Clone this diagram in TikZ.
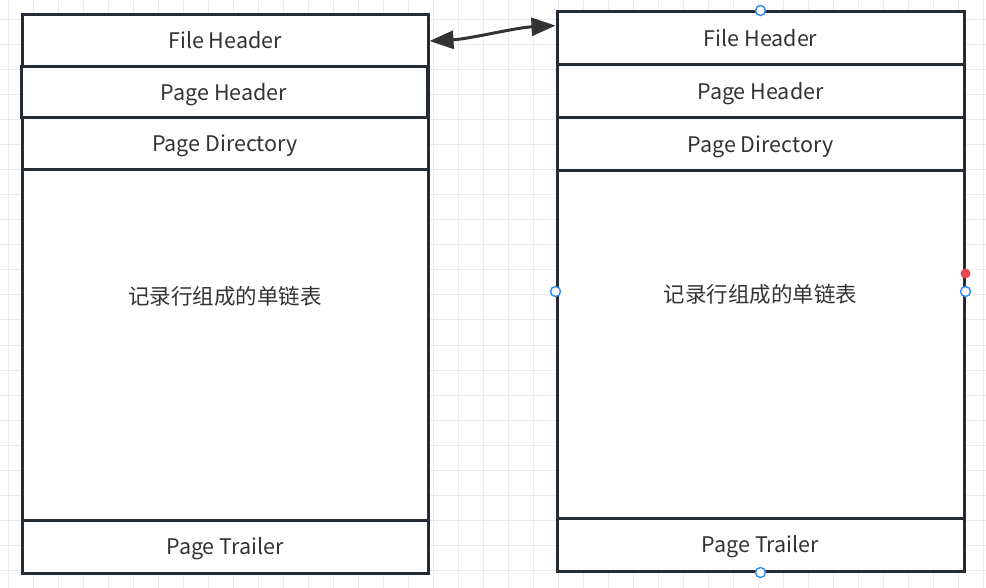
\documentclass[tikz,border=0pt]{standalone}
\usepackage{fontspec}
\setmainfont{Noto Sans CJK SC}
\usetikzlibrary{arrows.meta,calc}
\definecolor{edge}{HTML}{252C33}
\definecolor{txt}{HTML}{333333}
\definecolor{gridc}{HTML}{EBEBEB}
\definecolor{hblue}{HTML}{2D8CF0}
\definecolor{hred}{HTML}{E5484D}
\tikzset{
  outerbox/.style={draw=edge, line width=3pt, fill=white, minimum width=#1, inner sep=0pt, font=\fontsize{21.5}{25}\selectfont, text=txt, text height=21pt, text depth=0pt},
  rowbox/.style={draw=edge, line width=3pt, fill=white, minimum width=#1, inner sep=0pt, font=\fontsize{21.5}{25}\selectfont, text=txt, text height=15.5pt, text depth=0pt},
  handle/.style={circle, draw=hblue, fill=white, line width=1.4pt, minimum size=10pt, inner sep=0pt},
  reddot/.style={circle, fill=hred, minimum size=10pt, inner sep=0pt},
  link/.style={draw=txt, line width=3pt, {Triangle[length=24pt,width=18pt]}-{Triangle[length=24pt,width=18pt]}}
}
\begin{document}
\begin{tikzpicture}[x=1pt,y=-1pt]
\useasboundingbox (0,0) rectangle (986,588);
\fill[white] (0,0) rectangle (986,588);
% grid
\foreach \gx in {8,33,...,983} \draw[gridc, line width=1pt] (\gx,0) -- (\gx,588);
\foreach \gy in {20,45,...,570} \draw[gridc, line width=1pt] (0,\gy) -- (986,\gy);
% left page
\node[outerbox=406pt, minimum height=558pt] (L) at (225,294) {记录行组成的单链表};
\node[rowbox=406pt, minimum height=52pt] (Lfh) at (225,41) {File Header};
\node[rowbox=406pt, minimum height=51pt] (Lph) at (224,92.5) {Page Header};
\node[rowbox=406pt, minimum height=52pt] (Lpd) at (225,144) {Page Directory};
\node[rowbox=406pt, minimum height=53pt] (Lpt) at (225,546.5) {Page Trailer};
% right page
\node[outerbox=407pt, minimum height=559pt] (R) at (760.5,291.5) {记录行组成的单链表};
\node[rowbox=407pt, minimum height=53pt] (Rfh) at (760.5,38.5) {File Header};
\node[rowbox=407pt, minimum height=53pt] (Rph) at (760.5,91.5) {Page Header};
\node[rowbox=407pt, minimum height=53pt] (Rpd) at (760.5,144.5) {Page Directory};
\node[rowbox=407pt, minimum height=53pt] (Rpt) at (760.5,544.5) {Page Trailer};
% connector
\coordinate (Rin) at ($(Rfh.north west)!0.27!(Rfh.south west)$);
\draw[link] (Lfh.east) .. controls +(40,-2) and +(-40,2) .. (Rin);
% selection handles
\node[handle] (hn) at (R.north) {};
\node[handle] (hw) at (R.west) {};
\node[handle] (he) at (R.east) {};
\node[handle] (hs) at (R.south) {};
\node[reddot] (hr) at ($(R.east)+(0,-18)$) {};
\end{tikzpicture}
\end{document}
